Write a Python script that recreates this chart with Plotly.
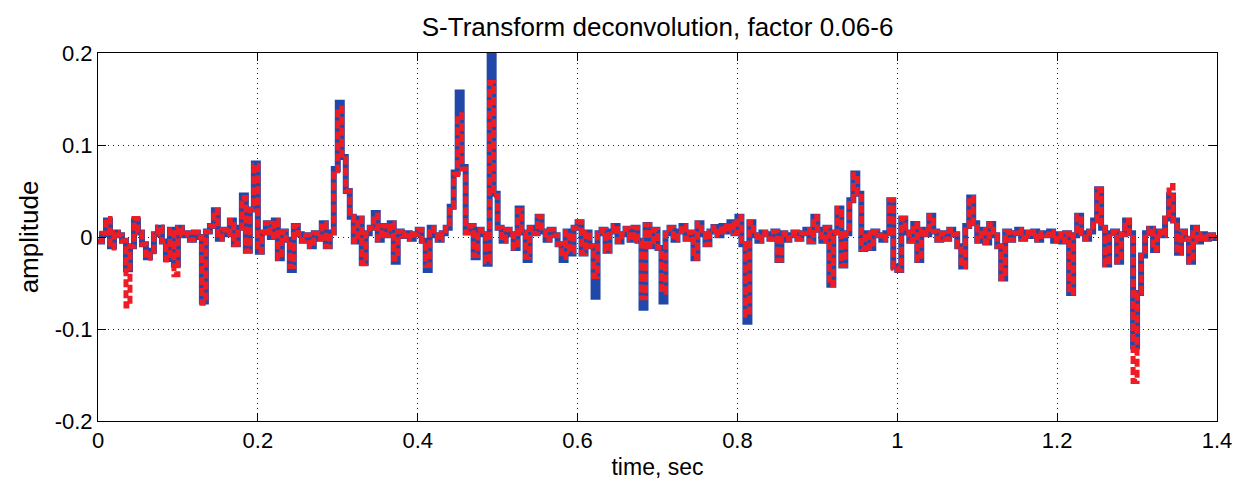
import plotly.graph_objects as go

# time samples (s), step 0.005
t = [round(i * 0.005, 3) for i in range(281)]

blue = [
    # 0.000-0.095
    -0.005, 0.003, 0.018, -0.010, 0.005, 0.002, -0.004, -0.035, -0.010, 0.018,
    0.005, -0.008, -0.022, -0.015, 0.003, 0.010, -0.005, -0.024, 0.008, -0.030,
    # 0.100-0.195
    0.010, 0.002, 0.004, -0.003, 0.005, 0.000, -0.070, 0.006, 0.012, 0.029,
    -0.002, 0.008, 0.003, 0.018, -0.008, 0.010, 0.045, -0.015, 0.030, 0.080,
    # 0.200-0.295
    -0.016, 0.005, 0.015, 0.000, 0.018, -0.023, 0.006, -0.003, -0.036, 0.012,
    0.003, -0.004, 0.002, -0.010, 0.004, -0.002, 0.015, -0.010, 0.005, 0.074,
    # 0.300-0.395
    0.146, 0.087, 0.050, 0.022, -0.005, 0.020, -0.028, 0.004, 0.010, 0.026,
    -0.003, 0.012, 0.002, 0.015, -0.027, 0.006, 0.001, 0.004, -0.002, 0.003,
    # 0.400-0.495
    0.008, -0.004, -0.036, 0.010, 0.002, -0.003, 0.004, 0.010, 0.033, 0.070,
    0.157, 0.076, 0.005, 0.012, -0.022, 0.008, 0.003, -0.029, 0.198, 0.047,
    # 0.500-0.595
    0.010, -0.004, 0.008, 0.003, -0.012, 0.031, 0.005, -0.025, 0.010, 0.004,
    0.022, 0.006, -0.003, 0.008, 0.002, -0.008, -0.025, 0.006, -0.018, 0.010,
    # 0.600-0.695
    0.016, -0.018, 0.005, -0.010, -0.065, 0.004, 0.008, -0.015, 0.006, 0.012,
    -0.005, 0.003, 0.009, -0.003, 0.010, -0.004, -0.077, 0.013, -0.010, 0.008,
    # 0.700-0.795
    -0.012, -0.070, 0.004, 0.010, -0.003, 0.006, 0.012, -0.002, 0.005, -0.023,
    0.015, 0.003, -0.008, 0.006, 0.011, 0.002, 0.012, 0.006, 0.016, 0.004,
    # 0.800-0.895
    0.022, -0.008, -0.092, 0.016, 0.002, -0.004, 0.005, 0.003, -0.002, 0.006,
    -0.025, 0.004, -0.003, 0.002, 0.005, -0.002, 0.004, 0.008, -0.005, 0.022,
    # 0.900-0.995
    0.008, -0.004, 0.010, -0.052, 0.005, 0.031, -0.031, 0.004, 0.040, 0.069,
    0.047, -0.013, 0.004, -0.012, 0.006, 0.002, -0.003, 0.004, 0.040, -0.032,
    # 1.000-1.095
    -0.036, 0.020, 0.005, -0.004, 0.014, -0.025, 0.008, 0.003, 0.023, 0.006,
    -0.003, 0.004, -0.002, 0.008, 0.003, -0.010, -0.032, 0.012, 0.043, 0.015,
    # 1.100-1.195
    -0.004, 0.008, -0.006, 0.014, 0.002, -0.010, -0.045, 0.006, -0.003, 0.004,
    0.008, -0.002, 0.005, 0.001, 0.006, -0.003, 0.004, 0.002, 0.006, -0.004,
    # 1.200-1.295
    0.003, -0.005, 0.004, -0.061, 0.002, 0.023, 0.004, -0.002, 0.006, 0.018,
    0.052, 0.010, -0.030, 0.004, 0.006, -0.027, 0.003, 0.018, 0.004, -0.119,
    # 1.300-1.400
    -0.061, -0.020, 0.004, 0.009, -0.014, 0.006, 0.002, 0.020, 0.045, 0.018,
    -0.017, 0.006, -0.002, -0.027, 0.010, -0.005, 0.003, -0.002, 0.002, -0.001,
    0.000,
]

red = [
    # 0.000-0.095
    -0.005, 0.004, 0.020, -0.012, 0.005, 0.002, -0.004, -0.075, -0.010, 0.020,
    0.005, -0.008, -0.023, -0.016, 0.003, 0.011, -0.005, -0.025, 0.008, -0.041,
    # 0.100-0.195
    0.010, 0.002, 0.004, -0.003, 0.005, 0.000, -0.072, 0.006, 0.012, 0.029,
    -0.002, 0.008, 0.003, 0.018, -0.008, 0.010, 0.043, -0.015, 0.030, 0.078,
    # 0.200-0.295
    -0.016, 0.005, 0.015, 0.000, 0.018, -0.023, 0.006, -0.003, -0.032, 0.012,
    0.003, -0.004, 0.002, -0.010, 0.004, -0.002, 0.015, -0.010, 0.005, 0.072,
    # 0.300-0.395
    0.140, 0.085, 0.050, 0.022, -0.005, 0.020, -0.029, 0.004, 0.010, 0.024,
    -0.003, 0.012, 0.002, 0.015, -0.024, 0.006, 0.001, 0.004, -0.002, 0.003,
    # 0.400-0.495
    0.008, -0.004, -0.031, 0.010, 0.002, -0.003, 0.004, 0.010, 0.033, 0.068,
    0.133, 0.074, 0.005, 0.012, -0.020, 0.008, 0.003, -0.027, 0.168, 0.045,
    # 0.500-0.595
    0.010, -0.004, 0.008, 0.003, -0.012, 0.029, 0.005, -0.022, 0.010, 0.004,
    0.022, 0.006, -0.003, 0.008, 0.002, -0.008, -0.022, 0.006, -0.016, 0.010,
    # 0.600-0.695
    0.016, -0.018, 0.005, -0.010, -0.043, 0.004, 0.008, -0.015, 0.006, 0.012,
    -0.005, 0.003, 0.009, -0.003, 0.010, -0.004, -0.066, 0.013, -0.010, 0.008,
    # 0.700-0.795
    -0.012, -0.060, 0.004, 0.010, -0.003, 0.006, 0.012, -0.002, 0.005, -0.023,
    0.015, 0.003, -0.008, 0.006, 0.011, 0.002, 0.012, 0.006, 0.015, 0.004,
    # 0.800-0.895
    0.022, -0.008, -0.085, 0.016, 0.002, -0.004, 0.005, 0.003, -0.002, 0.006,
    -0.025, 0.004, -0.003, 0.002, 0.005, -0.002, 0.004, 0.008, -0.005, 0.022,
    # 0.900-0.995
    0.008, -0.004, 0.010, -0.052, 0.005, 0.031, -0.031, 0.004, 0.040, 0.068,
    0.047, -0.013, 0.004, -0.012, 0.006, 0.002, -0.003, 0.004, 0.040, -0.034,
    # 1.000-1.095
    -0.036, 0.020, 0.005, -0.004, 0.014, -0.025, 0.008, 0.003, 0.023, 0.006,
    -0.003, 0.004, -0.002, 0.008, 0.003, -0.010, -0.032, 0.012, 0.043, 0.015,
    # 1.100-1.195
    -0.004, 0.008, -0.006, 0.014, 0.002, -0.010, -0.045, 0.006, -0.003, 0.004,
    0.008, -0.002, 0.005, 0.001, 0.006, -0.003, 0.004, 0.002, 0.006, -0.004,
    # 1.200-1.295
    0.003, -0.005, 0.004, -0.061, 0.002, 0.023, 0.004, -0.002, 0.006, 0.018,
    0.052, 0.010, -0.030, 0.004, 0.006, -0.027, 0.003, 0.018, 0.004, -0.157,
    # 1.300-1.400
    -0.061, -0.020, 0.004, 0.009, -0.014, 0.006, 0.002, 0.020, 0.056, 0.018,
    -0.017, 0.006, -0.002, -0.027, 0.010, -0.005, 0.003, -0.002, 0.002, -0.001,
    0.000,
]

x_ticks = [0, 0.2, 0.4, 0.6, 0.8, 1.0, 1.2, 1.4]
x_tick_labels = ["0", "0.2", "0.4", "0.6", "0.8", "1", "1.2", "1.4"]
y_ticks = [-0.2, -0.1, 0, 0.1, 0.2]
y_tick_labels = ["-0.2", "-0.1", "0", "0.1", "0.2"]

fig = go.Figure()
fig.add_trace(go.Scatter(
    x=t, y=blue, mode="lines", line=dict(color="#2148a8", width=6, shape="hv"),
    showlegend=False, cliponaxis=True))
fig.add_trace(go.Scatter(
    x=t, y=red, mode="lines",
    line=dict(color="#ee1c25", width=5, shape="hv", dash="8px,3px"),
    showlegend=False, cliponaxis=True))

font_family = "Liberation Sans, Arial, sans-serif"
fig.update_layout(
    width=1237, height=491,
    margin=dict(l=98, r=20, t=53, b=70, autoexpand=False),
    paper_bgcolor="white", plot_bgcolor="white",
    title=dict(text="S-Transform deconvolution, factor 0.06-6",
               x=0.5316, xanchor="center", y=0.945, yanchor="middle",
               font=dict(family=font_family, size=26, color="black")),
    font=dict(family=font_family, size=22, color="black"),
    xaxis=dict(
        range=[0, 1.4], tickvals=x_ticks, ticktext=x_tick_labels,
        showline=True, linecolor="black", linewidth=1, mirror="ticks",
        ticks="inside", ticklen=8, tickcolor="black", automargin=False,
        showgrid=True, gridcolor="#222222", griddash="1px,4px", gridwidth=1,
        zeroline=False,
        title=dict(text="time, sec", standoff=6, font=dict(size=23)),
        tickfont=dict(size=22),
    ),
    yaxis=dict(
        range=[-0.2, 0.2], tickvals=y_ticks, ticktext=y_tick_labels,
        showline=True, linecolor="black", linewidth=1, mirror="ticks",
        ticks="inside", ticklen=8, tickcolor="black", automargin=False,
        showgrid=True, gridcolor="#222222", griddash="1px,4px", gridwidth=1,
        zeroline=False,
        title=dict(text="amplitude", standoff=8, font=dict(size=26)),
        tickfont=dict(size=22),
    ),
)

fig.write_html("out.html")
